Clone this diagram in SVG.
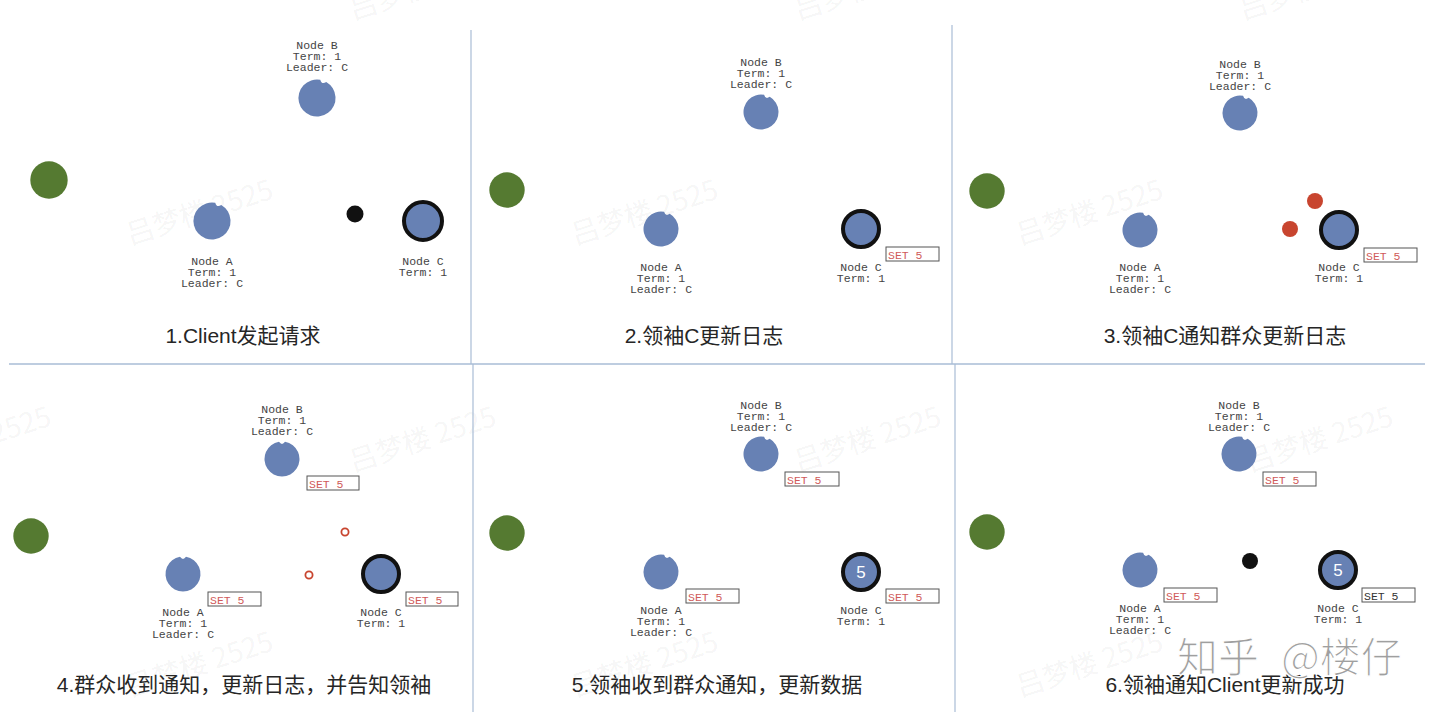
<svg xmlns="http://www.w3.org/2000/svg" xmlns:xlink="http://www.w3.org/1999/xlink" width="1440" height="718" viewBox="0 0 1440 718">
<style>
  .bg{fill:#ffffff}
  .div{stroke:#a9bdd6;stroke-width:1.2;fill:none}
  .wm{font-family:"Noto Sans CJK SC","Liberation Sans",sans-serif;font-size:28px;fill:#000;fill-opacity:0.055}
  .zh{font-family:"Noto Sans CJK SC",sans-serif;font-size:41px;fill:#8e8e8e;fill-opacity:0.85;stroke:#ffffff;stroke-width:1.2}
  .client{fill:#557a31}
  .node{fill:#6781b4}
  .leader{fill:#6781b4;stroke:#111111;stroke-width:4}
  .lbl{font-family:"Liberation Mono","DejaVu Sans Mono",monospace;font-size:11.5px;fill:#444444;text-anchor:middle}
  .box{fill:#ffffff;stroke:#555555;stroke-width:1}
  .set{font-family:"Liberation Mono","DejaVu Sans Mono",monospace;font-size:11.5px;fill:#d05a5a}
  .setk{font-family:"Liberation Mono","DejaVu Sans Mono",monospace;font-size:11.5px;fill:#333333}
  .msg{fill:#111111}
  .red{fill:#c8452f}
  .ring{fill:#ffffff;stroke:#c8452f;stroke-width:1.8}
  .cap{font-family:"Liberation Sans","Noto Sans CJK SC",sans-serif;font-size:21px;fill:#262626;text-anchor:middle}
  .five{font-family:"Liberation Sans",sans-serif;font-size:17px;fill:#ffffff;text-anchor:middle}
</style>
<defs>
  <path id="notched" d="M -3 -17.24 A 17.5 17.5 0 1 0 3 -17.24 Q 0 -13 -3 -17.24 Z"/>
</defs>
<rect class="bg" x="0" y="0" width="1440" height="718"/>

<g id="watermarks">
  <text class="wm" transform="translate(353,20) rotate(-18)">吕梦楼 2525</text>
  <text class="wm" transform="translate(798,20) rotate(-18)">吕梦楼 2525</text>
  <text class="wm" transform="translate(1243,20) rotate(-18)">吕梦楼 2525</text>
  <text class="wm" transform="translate(130,245) rotate(-18)">吕梦楼 2525</text>
  <text class="wm" transform="translate(575,245) rotate(-18)">吕梦楼 2525</text>
  <text class="wm" transform="translate(1020,245) rotate(-18)">吕梦楼 2525</text>
  <text class="wm" transform="translate(-92,472) rotate(-18)">吕梦楼 2525</text>
  <text class="wm" transform="translate(353,472) rotate(-18)">吕梦楼 2525</text>
  <text class="wm" transform="translate(798,472) rotate(-18)">吕梦楼 2525</text>
  <text class="wm" transform="translate(1250,472) rotate(-18)">吕梦楼 2525</text>
  <text class="wm" transform="translate(130,697) rotate(-18)">吕梦楼 2525</text>
  <text class="wm" transform="translate(575,697) rotate(-18)">吕梦楼 2525</text>
  <text class="wm" transform="translate(1020,697) rotate(-18)">吕梦楼 2525</text>
</g>

<g id="dividers">
  <line class="div" x1="471" y1="30" x2="471" y2="364"/>
  <line class="div" x1="952" y1="25" x2="952" y2="364"/>
  <line class="div" x1="473" y1="364" x2="473" y2="712"/>
  <line class="div" x1="955" y1="364" x2="955" y2="712"/>
  <line class="div" x1="9" y1="364" x2="1425" y2="364" style="stroke-width:1.6"/>
</g>

<g id="connectors"></g>

<!-- Panel 1 -->
<g id="panel1">
  <g id="p1-client"><circle class="client" cx="49" cy="180" r="18.7"/></g>
  <g id="p1-nodeB">
    <text class="lbl" x="317" y="49">Node B</text>
    <text class="lbl" x="317" y="60">Term: 1</text>
    <text class="lbl" x="317" y="71">Leader: C</text>
    <use xlink:href="#notched" class="node" transform="translate(317,98) rotate(20) scale(1.06)"/>
  </g>
  <g id="p1-nodeA">
    <use xlink:href="#notched" class="node" transform="translate(212,221) rotate(20) scale(1.06)"/>
    <text class="lbl" x="212" y="265">Node A</text>
    <text class="lbl" x="212" y="276">Term: 1</text>
    <text class="lbl" x="212" y="287">Leader: C</text>
  </g>
  <g id="p1-msg"><circle class="msg" cx="355" cy="214" r="8.5"/></g>
  <g id="p1-nodeC">
    <circle class="leader" cx="423" cy="221" r="19"/>
    <text class="lbl" x="423" y="265">Node C</text>
    <text class="lbl" x="423" y="276">Term: 1</text>
  </g>
  <text class="cap" x="243" y="343">1.Client发起请求</text>
</g>

<!-- Panel 2 -->
<g id="panel2">
  <g id="p2-client"><circle class="client" cx="507" cy="190" r="17.7"/></g>
  <g id="p2-nodeB">
    <text class="lbl" x="761" y="66">Node B</text>
    <text class="lbl" x="761" y="77">Term: 1</text>
    <text class="lbl" x="761" y="88">Leader: C</text>
    <use xlink:href="#notched" class="node" transform="translate(761,112) rotate(20)"/>
  </g>
  <g id="p2-nodeA">
    <use xlink:href="#notched" class="node" transform="translate(661,229) rotate(20)"/>
    <text class="lbl" x="661" y="271">Node A</text>
    <text class="lbl" x="661" y="282">Term: 1</text>
    <text class="lbl" x="661" y="293">Leader: C</text>
  </g>
  <g id="p2-nodeC">
    <circle class="leader" cx="861" cy="229" r="18"/>
    <rect class="box" x="886" y="247" width="53" height="14"/>
    <text class="set" x="888" y="258.5">SET 5</text>
    <text class="lbl" x="861" y="271">Node C</text>
    <text class="lbl" x="861" y="282">Term: 1</text>
  </g>
  <text class="cap" x="704" y="343">2.领袖C更新日志</text>
</g>

<!-- Panel 3 -->
<g id="panel3">
  <g id="p3-client"><circle class="client" cx="987" cy="191" r="17.7"/></g>
  <g id="p3-nodeB">
    <text class="lbl" x="1240" y="68">Node B</text>
    <text class="lbl" x="1240" y="79">Term: 1</text>
    <text class="lbl" x="1240" y="90">Leader: C</text>
    <use xlink:href="#notched" class="node" transform="translate(1240,113) rotate(20)"/>
  </g>
  <g id="p3-nodeA">
    <use xlink:href="#notched" class="node" transform="translate(1140,230) rotate(20)"/>
    <text class="lbl" x="1140" y="271">Node A</text>
    <text class="lbl" x="1140" y="282">Term: 1</text>
    <text class="lbl" x="1140" y="293">Leader: C</text>
  </g>
  <g id="p3-msgs">
    <circle class="red" cx="1315" cy="201" r="8"/>
    <circle class="red" cx="1290" cy="229" r="8"/>
  </g>
  <g id="p3-nodeC">
    <circle class="leader" cx="1339" cy="230" r="18"/>
    <rect class="box" x="1364" y="248" width="53" height="14"/>
    <text class="set" x="1366" y="259.5">SET 5</text>
    <text class="lbl" x="1339" y="271">Node C</text>
    <text class="lbl" x="1339" y="282">Term: 1</text>
  </g>
  <text class="cap" x="1225" y="343">3.领袖C通知群众更新日志</text>
</g>

<!-- Panel 4 -->
<g id="panel4">
  <g id="p4-client"><circle class="client" cx="31" cy="536" r="17.7"/></g>
  <g id="p4-nodeB">
    <text class="lbl" x="282" y="413">Node B</text>
    <text class="lbl" x="282" y="424">Term: 1</text>
    <text class="lbl" x="282" y="435">Leader: C</text>
    <use xlink:href="#notched" class="node" transform="translate(282,459)"/>
    <rect class="box" x="307" y="476" width="52" height="14"/>
    <text class="set" x="309" y="487.5">SET 5</text>
  </g>
  <g id="p4-nodeA">
    <use xlink:href="#notched" class="node" transform="translate(183,574)"/>
    <rect class="box" x="208" y="592" width="53" height="14"/>
    <text class="set" x="210" y="603.5">SET 5</text>
    <text class="lbl" x="183" y="616">Node A</text>
    <text class="lbl" x="183" y="627">Term: 1</text>
    <text class="lbl" x="183" y="638">Leader: C</text>
  </g>
  <g id="p4-msgs">
    <circle class="ring" cx="345" cy="532" r="3.6"/>
    <circle class="ring" cx="309" cy="575" r="3.6"/>
  </g>
  <g id="p4-nodeC">
    <circle class="leader" cx="381" cy="574" r="18"/>
    <rect class="box" x="406" y="592" width="52" height="14"/>
    <text class="set" x="408" y="603.5">SET 5</text>
    <text class="lbl" x="381" y="616">Node C</text>
    <text class="lbl" x="381" y="627">Term: 1</text>
  </g>
  <text class="cap" x="244" y="692">4.群众收到通知，更新日志，并告知领袖</text>
</g>

<!-- Panel 5 -->
<g id="panel5">
  <g id="p5-client"><circle class="client" cx="507" cy="533" r="17.7"/></g>
  <g id="p5-nodeB">
    <text class="lbl" x="761" y="409">Node B</text>
    <text class="lbl" x="761" y="420">Term: 1</text>
    <text class="lbl" x="761" y="431">Leader: C</text>
    <use xlink:href="#notched" class="node" transform="translate(761,454) rotate(20)"/>
    <rect class="box" x="785" y="472" width="54" height="14"/>
    <text class="set" x="787" y="483.5">SET 5</text>
  </g>
  <g id="p5-nodeA">
    <use xlink:href="#notched" class="node" transform="translate(661,572) rotate(20)"/>
    <rect class="box" x="686" y="589" width="53" height="14"/>
    <text class="set" x="688" y="600.5">SET 5</text>
    <text class="lbl" x="661" y="614">Node A</text>
    <text class="lbl" x="661" y="625">Term: 1</text>
    <text class="lbl" x="661" y="636">Leader: C</text>
  </g>
  <g id="p5-nodeC">
    <circle class="leader" cx="861" cy="572" r="18"/>
    <text class="five" x="861" y="578">5</text>
    <rect class="box" x="886" y="589" width="53" height="14"/>
    <text class="set" x="888" y="600.5">SET 5</text>
    <text class="lbl" x="861" y="614">Node C</text>
    <text class="lbl" x="861" y="625">Term: 1</text>
  </g>
  <text class="cap" x="717" y="692">5.领袖收到群众通知，更新数据</text>
</g>

<!-- Panel 6 -->
<g id="panel6">
  <g id="p6-client"><circle class="client" cx="987" cy="532" r="17.7"/></g>
  <g id="p6-nodeB">
    <text class="lbl" x="1239" y="409">Node B</text>
    <text class="lbl" x="1239" y="420">Term: 1</text>
    <text class="lbl" x="1239" y="431">Leader: C</text>
    <use xlink:href="#notched" class="node" transform="translate(1239,454) rotate(20)"/>
    <rect class="box" x="1263" y="472" width="53" height="14"/>
    <text class="set" x="1265" y="483.5">SET 5</text>
  </g>
  <g id="p6-nodeA">
    <use xlink:href="#notched" class="node" transform="translate(1140,570) rotate(20)"/>
    <rect class="box" x="1164" y="588" width="53" height="14"/>
    <text class="set" x="1166" y="599.5">SET 5</text>
    <text class="lbl" x="1140" y="612">Node A</text>
    <text class="lbl" x="1140" y="623">Term: 1</text>
    <text class="lbl" x="1140" y="634">Leader: C</text>
  </g>
  <g id="p6-msg"><circle class="msg" cx="1250" cy="561" r="8"/></g>
  <g id="p6-nodeC">
    <circle class="leader" cx="1338" cy="570" r="18"/>
    <text class="five" x="1338" y="576">5</text>
    <rect class="box" x="1362" y="588" width="53" height="14"/>
    <text class="setk" x="1364" y="599.5">SET 5</text>
    <text class="lbl" x="1338" y="612">Node C</text>
    <text class="lbl" x="1338" y="623">Term: 1</text>
  </g>
  <text class="cap" x="1225" y="692">6.领袖通知Client更新成功</text>
</g>

<g id="zhihu-mark">
  <text class="zh" x="1177" y="672">知乎 <tspan x="1281">@楼仔</tspan></text>
</g>
</svg>
